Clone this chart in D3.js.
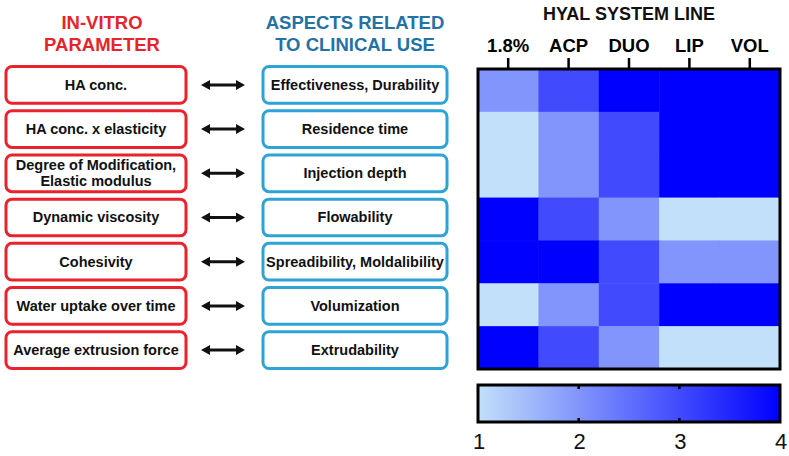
<!DOCTYPE html>
<html>
<head>
<meta charset="utf-8">
<script src="https://cdn.jsdelivr.net/npm/d3@7"></script>
<style>
  body { margin: 0; background: #fff; }
  svg { display: block; font-family: "Liberation Sans", Arial, sans-serif; }
</style>
</head>
<body>
<svg id="chart" width="789" height="456"></svg>
<script>
// in-vitro parameters and the clinical aspects they relate to
const parameters = [
    ['HA conc.'],
    ['HA conc. x elasticity'],
    ['Degree of Modification,', 'Elastic modulus'],
    ['Dynamic viscosity'],
    ['Cohesivity'],
    ['Water uptake over time'],
    ['Average extrusion force']
];
const aspects = [
    'Effectiveness, Durability',
    'Residence time',
    'Injection depth',
    'Flowability',
    'Spreadibility, Moldalibility',
    'Volumization',
    'Extrudability'
];

// heatmap columns (HYAL system line) and score per row
const products = ['1.8%', 'ACP', 'DUO', 'LIP', 'VOL'];
const scores = [
    [2, 3, 4, 4, 4],
    [1, 2, 3, 4, 4],
    [1, 2, 3, 4, 4],
    [4, 3, 2, 1, 1],
    [4, 4, 3, 2, 2],
    [1, 2, 3, 4, 4],
    [4, 3, 2, 1, 1]
];
const colorTicks = [1, 2, 3, 4];

const red = '#e8232b';
const blue = '#2ea3d5';

const svg = d3.select('#chart');

// ---- left side: two columns of boxes with arrows ----
const rowY = d3.scaleBand()
    .domain(d3.range(parameters.length))
    .range([63, 372])
    .paddingInner(0.17)
    .paddingOuter(0.08);

svg.append('text')
    .attr('x', 100).attr('y', 29)
    .attr('text-anchor', 'middle')
    .attr('font-size', 18.5).attr('font-weight', 'bold')
    .attr('fill', red)
    .selectAll('tspan')
    .data(['IN-VITRO', 'PARAMETER'])
    .join('tspan')
    .attr('x', 102)
    .attr('dy', (d, i) => i ? 22 : 0)
    .text(d => d);

svg.append('text')
    .attr('x', 355).attr('y', 29)
    .attr('text-anchor', 'middle')
    .attr('font-size', 18.5).attr('font-weight', 'bold')
    .attr('fill', '#2471a3')
    .selectAll('tspan')
    .data(['ASPECTS RELATED', 'TO CLINICAL USE'])
    .join('tspan')
    .attr('x', 355)
    .attr('dy', (d, i) => i ? 22 : 0)
    .text(d => d);

const drawBoxes = (data, x, w, stroke, lines) => {
    const g = svg.append('g')
        .selectAll('g')
        .data(data)
        .join('g')
        .attr('transform', (d, i) => `translate(${x}, ${rowY(i)})`);

    g.append('rect')
        .attr('width', w)
        .attr('height', rowY.bandwidth())
        .attr('rx', 6).attr('ry', 6)
        .attr('fill', '#fff')
        .attr('stroke', stroke)
        .attr('stroke-width', 3);

    g.append('text')
        .attr('text-anchor', 'middle')
        .attr('font-size', 14.5).attr('font-weight', 'bold')
        .attr('fill', '#111')
        .each(function(d) {
            const ls = lines(d);
            const mid = rowY.bandwidth() / 2;
            d3.select(this).selectAll('tspan')
                .data(ls)
                .join('tspan')
                .attr('x', w / 2)
                .attr('y', (l, j) => mid + 5 + (j - (ls.length - 1) / 2) * 16)
                .text(l => l);
        });
};

drawBoxes(parameters, 6, 180, red, d => d);
drawBoxes(aspects, 263, 184, blue, d => [d]);

// double-headed arrows
const arrows = svg.append('g')
    .selectAll('g')
    .data(parameters)
    .join('g')
    .attr('transform', (d, i) => `translate(0, ${rowY(i) + rowY.bandwidth() / 2})`);

arrows.append('line')
    .attr('x1', 206).attr('x2', 240)
    .attr('stroke', '#111').attr('stroke-width', 3);

arrows.append('path')
    .attr('d', 'M201,0 L210,-5 L210,5 Z M245,0 L236,-5 L236,5 Z')
    .attr('fill', '#111');

// ---- heatmap ----
const hm = { x0: 478, x1: 780, y0: 69, y1: 369 };

const x = d3.scaleBand()
    .domain(products)
    .range([hm.x0, hm.x1]);

const y = d3.scaleBand()
    .domain(d3.range(scores.length))
    .range([hm.y0, hm.y1]);

const color = d3.scaleLinear()
    .domain([1, 4])
    .range(['#c2e0fa', '#0000ff'])
    .interpolate(d3.interpolateRgb);

const cells = scores.flatMap((row, i) =>
    row.map((v, j) => ({ row: i, col: products[j], v })));

svg.append('g')
    .selectAll('rect')
    .data(cells)
    .join('rect')
    .attr('x', d => x(d.col))
    .attr('y', d => y(d.row))
    .attr('width', x.bandwidth() + 0.5)
    .attr('height', y.bandwidth() + 0.5)
    .attr('fill', d => color(d.v));

svg.append('rect')
    .attr('x', hm.x0).attr('y', hm.y0)
    .attr('width', hm.x1 - hm.x0).attr('height', hm.y1 - hm.y0)
    .attr('fill', 'none')
    .attr('stroke', '#000').attr('stroke-width', 3);

const topAxis = svg.append('g')
    .attr('transform', `translate(0, ${hm.y0})`)
    .call(d3.axisTop(x).tickSize(11).tickPadding(6));

topAxis.select('.domain').remove();
topAxis.selectAll('.tick line')
    .attr('stroke', '#000').attr('stroke-width', 2.5);
topAxis.selectAll('.tick text')
    .attr('font-family', '"Liberation Sans", Arial, sans-serif')
    .attr('font-size', 18.5).attr('font-weight', 'bold')
    .attr('fill', '#000');

svg.append('text')
    .attr('x', (hm.x0 + hm.x1) / 2).attr('y', 20)
    .attr('text-anchor', 'middle')
    .attr('font-size', 18).attr('font-weight', 'bold')
    .attr('fill', '#111')
    .text('HYAL SYSTEM LINE');

// ---- colour bar ----
const cb = { y0: 385, y1: 422 };
const cx = d3.scaleLinear()
    .domain(d3.extent(colorTicks))
    .range([hm.x0, hm.x1]);

const grad = svg.append('defs').append('linearGradient')
    .attr('id', 'cbar');
grad.selectAll('stop')
    .data(colorTicks)
    .join('stop')
    .attr('offset', d => (d - 1) / 3)
    .attr('stop-color', d => color(d));

svg.append('rect')
    .attr('x', hm.x0).attr('y', cb.y0)
    .attr('width', hm.x1 - hm.x0).attr('height', cb.y1 - cb.y0)
    .attr('fill', 'url(#cbar)')
    .attr('stroke', '#000').attr('stroke-width', 3);

const inner = colorTicks.slice(1, -1);
svg.append('g')
    .selectAll('path')
    .data(inner)
    .join('path')
    .attr('d', d => `M${cx(d)},${cb.y0} v4 M${cx(d)},${cb.y1} v-4`)
    .attr('stroke', '#000').attr('stroke-width', 2.5);

svg.append('g')
    .selectAll('text')
    .data(colorTicks)
    .join('text')
    .attr('x', d => cx(d) + 1)
    .attr('y', 449)
    .attr('text-anchor', 'middle')
    .attr('font-size', 22)
    .attr('fill', '#111')
    .text(d => d);
</script>
</body>
</html>
